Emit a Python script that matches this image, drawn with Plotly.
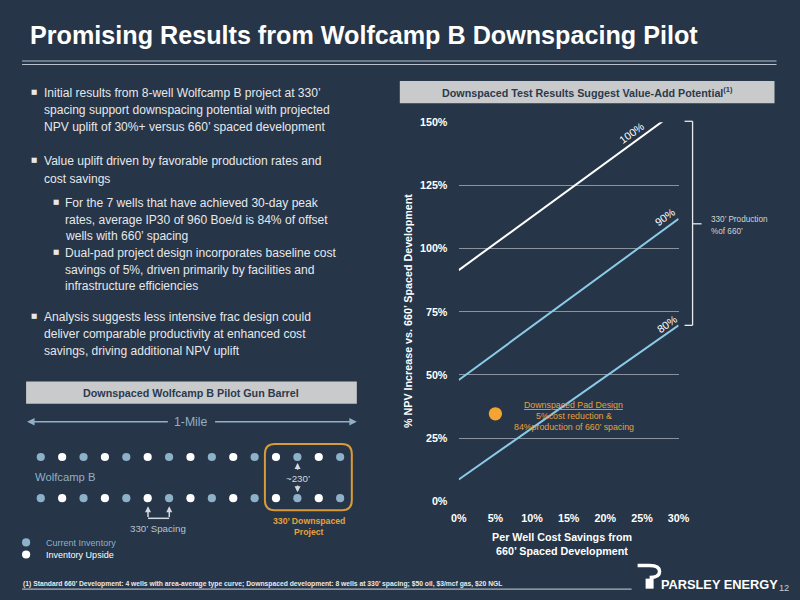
import plotly.graph_objects as go

# ---------------- data ----------------
cost_savings = [0, 30]                 # % per-well cost savings
npv_100 = [91.5, 155.0]                # 330' production = 100% of 660'
npv_90 = [48.0, 111.8]                 # 90%
npv_80 = [8.6, 69.6]                   # 80%
pilot_x = [5]
pilot_y = [34.6]
y_ticks = [0, 25, 50, 75, 100, 125, 150]
y_labels = ["0%", "25%", "50%", "75%", "100%", "125%", "150%"]
x_ticks = [0, 5, 10, 15, 20, 25, 30]
x_labels = ["0%", "5%", "10%", "15%", "20%", "25%", "30%"]

well_idx = list(range(15))
current_idx = [i for i in well_idx if i % 2 == 0]
upside_idx = [i for i in well_idx if i % 2 == 1]
rows = [1, 0]

BG = "#263547"
FONT = "Liberation Sans"
LBLUE = "#8ccbe8"
DOTBLUE = "#8db1c9"
ORANGE = "#e7a23d"
GRID = "#8a939d"

# the photographed page shows the figure slightly reduced and offset;
# target pixel positions are converted back to figure positions
OX, SX = 7.9, 0.977
OY, SY = 8.3, 0.975
FS = 1 / SX


def px(x):
    return ((x - OX) / SX) / 800


def py(y):
    return 1 - ((y - OY) / SY) / 600


def fs(s):
    return s * FS


fig = go.Figure()

fig.add_trace(go.Scatter(x=cost_savings, y=npv_100, mode="lines",
                         line=dict(color="#ffffff", width=2), showlegend=False,
                         xaxis="x", yaxis="y"))
fig.add_trace(go.Scatter(x=cost_savings, y=npv_90, mode="lines",
                         line=dict(color=LBLUE, width=2), showlegend=False,
                         xaxis="x", yaxis="y"))
fig.add_trace(go.Scatter(x=cost_savings, y=npv_80, mode="lines",
                         line=dict(color=LBLUE, width=2), showlegend=False,
                         xaxis="x", yaxis="y"))
fig.add_trace(go.Scatter(x=pilot_x, y=pilot_y, mode="markers",
                         marker=dict(color="#f5a431", size=fs(13)), showlegend=False,
                         xaxis="x", yaxis="y"))

for name, idx, col, tcol, lg in [("Current Inventory", current_idx, DOTBLUE, DOTBLUE, "legend"),
                                 ("Inventory Upside", upside_idx, "#ffffff", "#ffffff", "legend2")]:
    xs, ys = [], []
    for r in rows:
        for i in idx:
            xs.append(i)
            ys.append(r)
    fig.add_trace(go.Scatter(x=xs, y=ys, mode="markers",
                             marker=dict(color=col, size=fs(8)),
                             name=f'<span style="color:{tcol}">{name}</span>',
                             legend=lg, xaxis="x2", yaxis="y2"))

shapes = []
ann = []


def text(x, y, t, size, color="#ffffff", bold=False, xanchor="left", angle=0,
         xref="paper", yref="paper", family=FONT):
    if xref == "paper":
        x = px(x)
    if yref == "paper":
        y = py(y)
    ann.append(dict(x=x, y=y, xref=xref, yref=yref, text=t, showarrow=False,
                    xanchor=xanchor, yanchor="middle", textangle=angle,
                    font=dict(family=family, size=fs(size), color=color,
                              weight="bold" if bold else "normal")))


def line(x0, y0, x1, y1, color, width=1):
    shapes.append(dict(type="line", xref="paper", yref="paper",
                       x0=px(x0), y0=py(y0), x1=px(x1), y1=py(y1),
                       line=dict(color=color, width=width)))


def rect(x0, y0, x1, y1, fill):
    shapes.append(dict(type="rect", xref="paper", yref="paper",
                       x0=px(x0), y0=py(y0), x1=px(x1), y1=py(y1),
                       fillcolor=fill, line=dict(width=0), layer="below"))


def arrow(hx, hy, dx, dy, color, width=1.5, head=2, size=1):
    ann.append(dict(x=px(hx), y=py(hy), xref="paper", yref="paper", text="",
                    showarrow=True, ax=dx / SX, ay=dy / SY, arrowhead=head,
                    arrowsize=size, arrowwidth=width, arrowcolor=color))


# title
text(28, 37, "Promising Results from Wolfcamp B Downspacing Pilot", 24.6, bold=True)
line(22, 63, 777, 63, "#b9c2cc", 1.2)
line(22, 66.5, 777, 66.5, "#b9c2cc", 1.2)

# bullets
BUL = "#e6e8eb"
bullets = [
    (32, 42, 95, True, "Initial results from 8-well Wolfcamp B project at 330’"),
    (32, 42, 112, False, "spacing support downspacing potential with projected"),
    (32, 42, 129, False, "NPV uplift of 30%+ versus 660’ spaced development"),
    (32, 42, 163, True, "Value uplift driven by favorable production rates and"),
    (32, 42, 180, False, "cost savings"),
    (54, 63, 204, True, "For the 7 wells that have achieved 30-day peak"),
    (54, 63, 221, False, "rates, average IP30 of 960 Boe/d is 84% of offset"),
    (54, 63, 237, False, "wells with 660’ spacing"),
    (54, 63, 254, True, "Dual-pad project design incorporates baseline cost"),
    (54, 63, 271, False, "savings of 5%, driven primarily by facilities and"),
    (54, 63, 287, False, "infrastructure efficiencies"),
    (32, 42, 318, True, "Analysis suggests less intensive frac design could"),
    (32, 42, 335, False, "deliver comparable productivity at enhanced cost"),
    (32, 42, 352, False, "savings, driving additional NPV uplift"),
]
for bx, tx, y, has_b, t in bullets:
    if has_b:
        text(bx - 3, y - 1, "■", 6.5, color=BUL, family="DejaVu Sans")
    text(tx, y, t, 11.8, color=BUL)

# chart header
rect(400, 83, 775, 105, "#c9cacc")
text(588, 94, "Downspaced Test Results Suggest Value-Add Potential<sup>(1)</sup>",
     10.5, color="#2b3a4c", bold=True, xanchor="center")

# axis titles
text(408, 312, "% NPV Increase vs. 660’ Spaced Development", 10.5, bold=True,
     xanchor="center", angle=-90)
text(562, 537, "Per Well Cost Savings from", 10.5, bold=True, xanchor="center")
text(562, 551, "660’ Spaced Development", 10.5, bold=True, xanchor="center")

# line labels (data coordinates)
text(23.6, 145.6, "100%", 10.5, xanchor="center", angle=-36, xref="x", yref="y")
text(28.1, 112.6, "90%", 10.5, xanchor="center", angle=-36, xref="x", yref="y")
text(28.4, 70.3, "80%", 10.5, xanchor="center", angle=-35, xref="x", yref="y")

# pilot annotation
text(574, 405, "<u>Downspaced Pad Design</u>", 8.6, color=ORANGE, xanchor="center")
text(574, 416, "5%cost reduction &", 8.6, color=ORANGE, xanchor="center")
text(574, 427, "84%production of 660’ spacing", 8.6, color=ORANGE, xanchor="center")

# bracket
BR = "#e8eaec"
line(693, 123, 693, 326, BR, 1.3)
line(685, 123, 693, 123, BR, 1.3)
line(685, 326, 693, 326, BR, 1.3)
line(693, 225, 702, 225, BR, 1.3)
text(709, 221, "330’ Production", 8, color="#d0d4d8")
text(709, 233, "%of 660’", 8, color="#d0d4d8")

# gun barrel header
rect(26, 382, 357, 404, "#c9cacc")
text(191, 393, "Downspaced Wolfcamp B Pilot Gun Barrel", 10.5, color="#2b3a4c",
     bold=True, xanchor="center")

# 1-mile arrow
MILE = "#8fb0c8"
arrow(27, 422, 139, 0, MILE, 1.5, 2, 1)
arrow(357, 422, -140, 0, MILE, 1.5, 2, 1)
text(191, 422, "1-Mile", 12, color=MILE, xanchor="center")

text(33, 477, "Wolfcamp B", 11, color=MILE)

# 230' marker
GR = "#d3d9df"
arrow(297.7, 463, 0, 8, GR, 1.5, 2, 0.8)
arrow(297.7, 492, 0, -8, GR, 1.5, 2, 0.8)
text(297.7, 478, "~230’", 9.5, color=GR, xanchor="center")

# 330' spacing
arrow(148, 506, 0, 12, GR, 1.5, 2, 0.8)
arrow(169.3, 506, 0, 12, GR, 1.5, 2, 0.8)
line(148, 518, 169.3, 518, GR, 1.5)
text(158, 528, "330’ Spacing", 9.5, color="#b8c4cf", xanchor="center")

# orange rounded box
x0, y0, x1, y1, r = 265, 444, 352, 510, 10
path = (f"M {px(x0+r)},{py(y0)} L {px(x1-r)},{py(y0)} Q {px(x1)},{py(y0)} {px(x1)},{py(y0+r)} "
        f"L {px(x1)},{py(y1-r)} Q {px(x1)},{py(y1)} {px(x1-r)},{py(y1)} "
        f"L {px(x0+r)},{py(y1)} Q {px(x0)},{py(y1)} {px(x0)},{py(y1-r)} "
        f"L {px(x0)},{py(y0+r)} Q {px(x0)},{py(y0)} {px(x0+r)},{py(y0)} Z")
shapes.append(dict(type="path", xref="paper", yref="paper", path=path,
                   line=dict(color="#d99a3a", width=2)))
text(309, 521, "330’ Downspaced", 8.5, color=ORANGE, bold=True, xanchor="center")
text(309, 532, "Project", 8.5, color=ORANGE, bold=True, xanchor="center")

# footnote
text(21, 583, "(1) Standard 660’ Development: 4 wells with area-average type curve; "
     "Downspaced development: 8 wells at 330’ spacing; $50 oil, $3/mcf gas, $20 NGL",
     6.6, color="#e8eaec", bold=True)
line(22, 588.5, 632, 588.5, "#aab3bd", 1.2)

# logo
rect(646, 578, 654, 588, "#ffffff")
hook = (f"M {px(638)},{py(565)} L {px(650)},{py(565)} "
        f"Q {px(660)},{py(565)} {px(660)},{py(571)} Q {px(660)},{py(577)} {px(650)},{py(577)}")
shapes.append(dict(type="path", xref="paper", yref="paper", path=hook,
                   line=dict(color="#ffffff", width=3.5)))
text(659, 584, "PARSLEY ENERGY", 12.5, bold=True, xanchor="left")
text(784, 587, "12", 9, color="#c8ccd0", xanchor="center")

leg_common = dict(xanchor="left", yanchor="middle", bgcolor="rgba(0,0,0,0)",
                  font=dict(family=FONT, size=fs(8.8)), itemwidth=30,
                  borderwidth=0)

fig.update_layout(
    width=800, height=600,
    margin=dict(l=0, r=0, t=0, b=0),
    paper_bgcolor=BG, plot_bgcolor=BG,
    shapes=shapes, annotations=ann,
    showlegend=True,
    legend=dict(x=px(6), y=py(542), **leg_common),
    legend2=dict(x=px(6), y=py(554), **leg_common),
    xaxis=dict(domain=[px(459), px(679)], range=[0, 30], tickmode="array",
               tickvals=x_ticks, ticktext=x_labels,
               showgrid=False, zeroline=False, showline=False,
               ticks="outside", ticklen=fs(7), tickcolor="rgba(0,0,0,0)",
               tickfont=dict(family=FONT, size=fs(10.5), color="#ffffff", weight="bold"),
               fixedrange=True),
    yaxis=dict(domain=[py(501), py(124)], range=[0, 150], tickmode="array",
               tickvals=y_ticks, ticktext=y_labels,
               showgrid=True, gridcolor=GRID, gridwidth=1.3,
               zeroline=False, showline=False,
               ticks="outside", ticklen=fs(8), tickcolor="rgba(0,0,0,0)",
               tickfont=dict(family=FONT, size=fs(10.5), color="#ffffff", weight="bold"),
               fixedrange=True),
    xaxis2=dict(domain=[px(20), px(360)], range=[-0.967, 14.92], visible=False,
                anchor="y2"),
    yaxis2=dict(domain=[py(520), py(440)], range=[-0.5366, 1.4146], visible=False,
                anchor="x2"),
)

fig.write_html("out.html", config={"displayModeBar": False},
               post_script="document.body.style.margin='0px';"
                           "document.body.style.overflow='hidden';")
